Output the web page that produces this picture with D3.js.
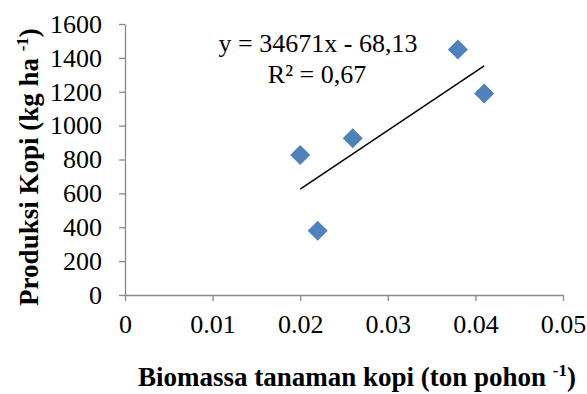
<!DOCTYPE html>
<html lang="id">
<head>
    <meta charset="UTF-8">
    <title>Biomassa vs Produksi Kopi</title>
    <script src="https://cdn.jsdelivr.net/npm/d3@7/dist/d3.min.js"></script>
    <style>
        html, body {
            margin: 0;
            padding: 0;
            background: #fff;
        }
        svg text {
            font-family: "Liberation Serif", "Times New Roman", serif;
        }
    </style>
</head>
<body>
<div id="chart"></div>
<script>
    // data
    var biomassa = [0.020, 0.022, 0.026, 0.038, 0.041];
    var produksi = [826, 380, 925, 1450, 1190];
    var xTicks = [0, 0.01, 0.02, 0.03, 0.04, 0.05];
    var yTicks = [0, 200, 400, 600, 800, 1000, 1200, 1400, 1600];
    // trend line as printed on the chart
    var slope = 34671;
    var intercept = -68.13;

    var W = 587, H = 394;
    var svg = d3.select("#chart").append("svg")
        .attr("width", W)
        .attr("height", H);

    var x = d3.scaleLinear().domain([0, 0.05]).range([125, 563]);
    var y = d3.scaleLinear().domain([0, 1600]).range([295, 24]);

    var axisColor = "#898989";
    var serif = "'Liberation Serif', 'Times New Roman', serif";

    // y axis
    var yAxis = svg.append("g")
        .attr("transform", "translate(" + x(0) + ",0)")
        .call(d3.axisLeft(y).tickValues(yTicks).tickSize(6).tickSizeOuter(0).tickPadding(17)
            .tickFormat(d3.format("d")));
    yAxis.attr("font-family", serif);
    yAxis.select(".domain").attr("stroke", axisColor).attr("stroke-width", 1.3);
    yAxis.selectAll(".tick line").attr("stroke", axisColor).attr("stroke-width", 1.3);
    yAxis.selectAll(".tick text")
        .attr("fill", "#000")
        .style("font-family", serif)
        .style("font-size", "26px");

    // x axis
    var xAxis = svg.append("g")
        .attr("transform", "translate(0," + y(0) + ")")
        .call(d3.axisBottom(x).tickValues(xTicks).tickSize(6).tickSizeOuter(0).tickPadding(14)
            .tickFormat(function (d) { return d === 0 ? "0" : d3.format(".2f")(d); }));
    xAxis.attr("font-family", serif);
    xAxis.select(".domain").attr("stroke", axisColor).attr("stroke-width", 1.3);
    xAxis.selectAll(".tick line").attr("stroke", axisColor).attr("stroke-width", 1.3);
    xAxis.selectAll(".tick text")
        .attr("fill", "#000")
        .style("font-family", serif)
        .style("font-size", "26px");

    // trend line
    var x0 = d3.min(biomassa), x1 = d3.max(biomassa);
    svg.append("line")
        .attr("x1", x(x0)).attr("y1", y(slope * x0 + intercept))
        .attr("x2", x(x1)).attr("y2", y(slope * x1 + intercept))
        .attr("stroke", "#000")
        .attr("stroke-width", 1.5);

    // points
    var pts = biomassa.map(function (b, i) { return [b, produksi[i]]; });
    svg.selectAll("path.pt")
        .data(pts)
        .enter()
        .append("path")
        .attr("class", "pt")
        .attr("d", "M0,-10L10,0L0,10L-10,0Z")
        .attr("transform", function (d) { return "translate(" + x(d[0]) + "," + y(d[1]) + ")"; })
        .attr("fill", "#4f81bd");

    // equation
    svg.append("text")
        .attr("x", 318).attr("y", 52)
        .attr("text-anchor", "middle")
        .style("font-size", "26px")
        .text("y = 34671x - 68,13");
    svg.append("text")
        .attr("x", 317).attr("y", 83)
        .attr("text-anchor", "middle")
        .style("font-size", "26px")
        .text("R² = 0,67");

    // axis titles
    var xt = svg.append("text")
        .attr("x", 357).attr("y", 386)
        .attr("text-anchor", "middle")
        .style("font-size", "27px")
        .style("font-weight", "bold");
    xt.append("tspan").text("Biomassa tanaman kopi (ton pohon ");
    xt.append("tspan").attr("dy", -10).style("font-size", "17px").text("-1");
    xt.append("tspan").attr("dy", 10).text(")");

    var yt = svg.append("text")
        .attr("transform", "translate(38,167) rotate(-90)")
        .attr("text-anchor", "middle")
        .style("font-size", "27px")
        .style("font-weight", "bold");
    yt.append("tspan").text("Produksi Kopi (kg ha ");
    yt.append("tspan").attr("dy", -10).style("font-size", "17px").text("-1");
    yt.append("tspan").attr("dy", 10).text(")");
</script>
</body>
</html>
